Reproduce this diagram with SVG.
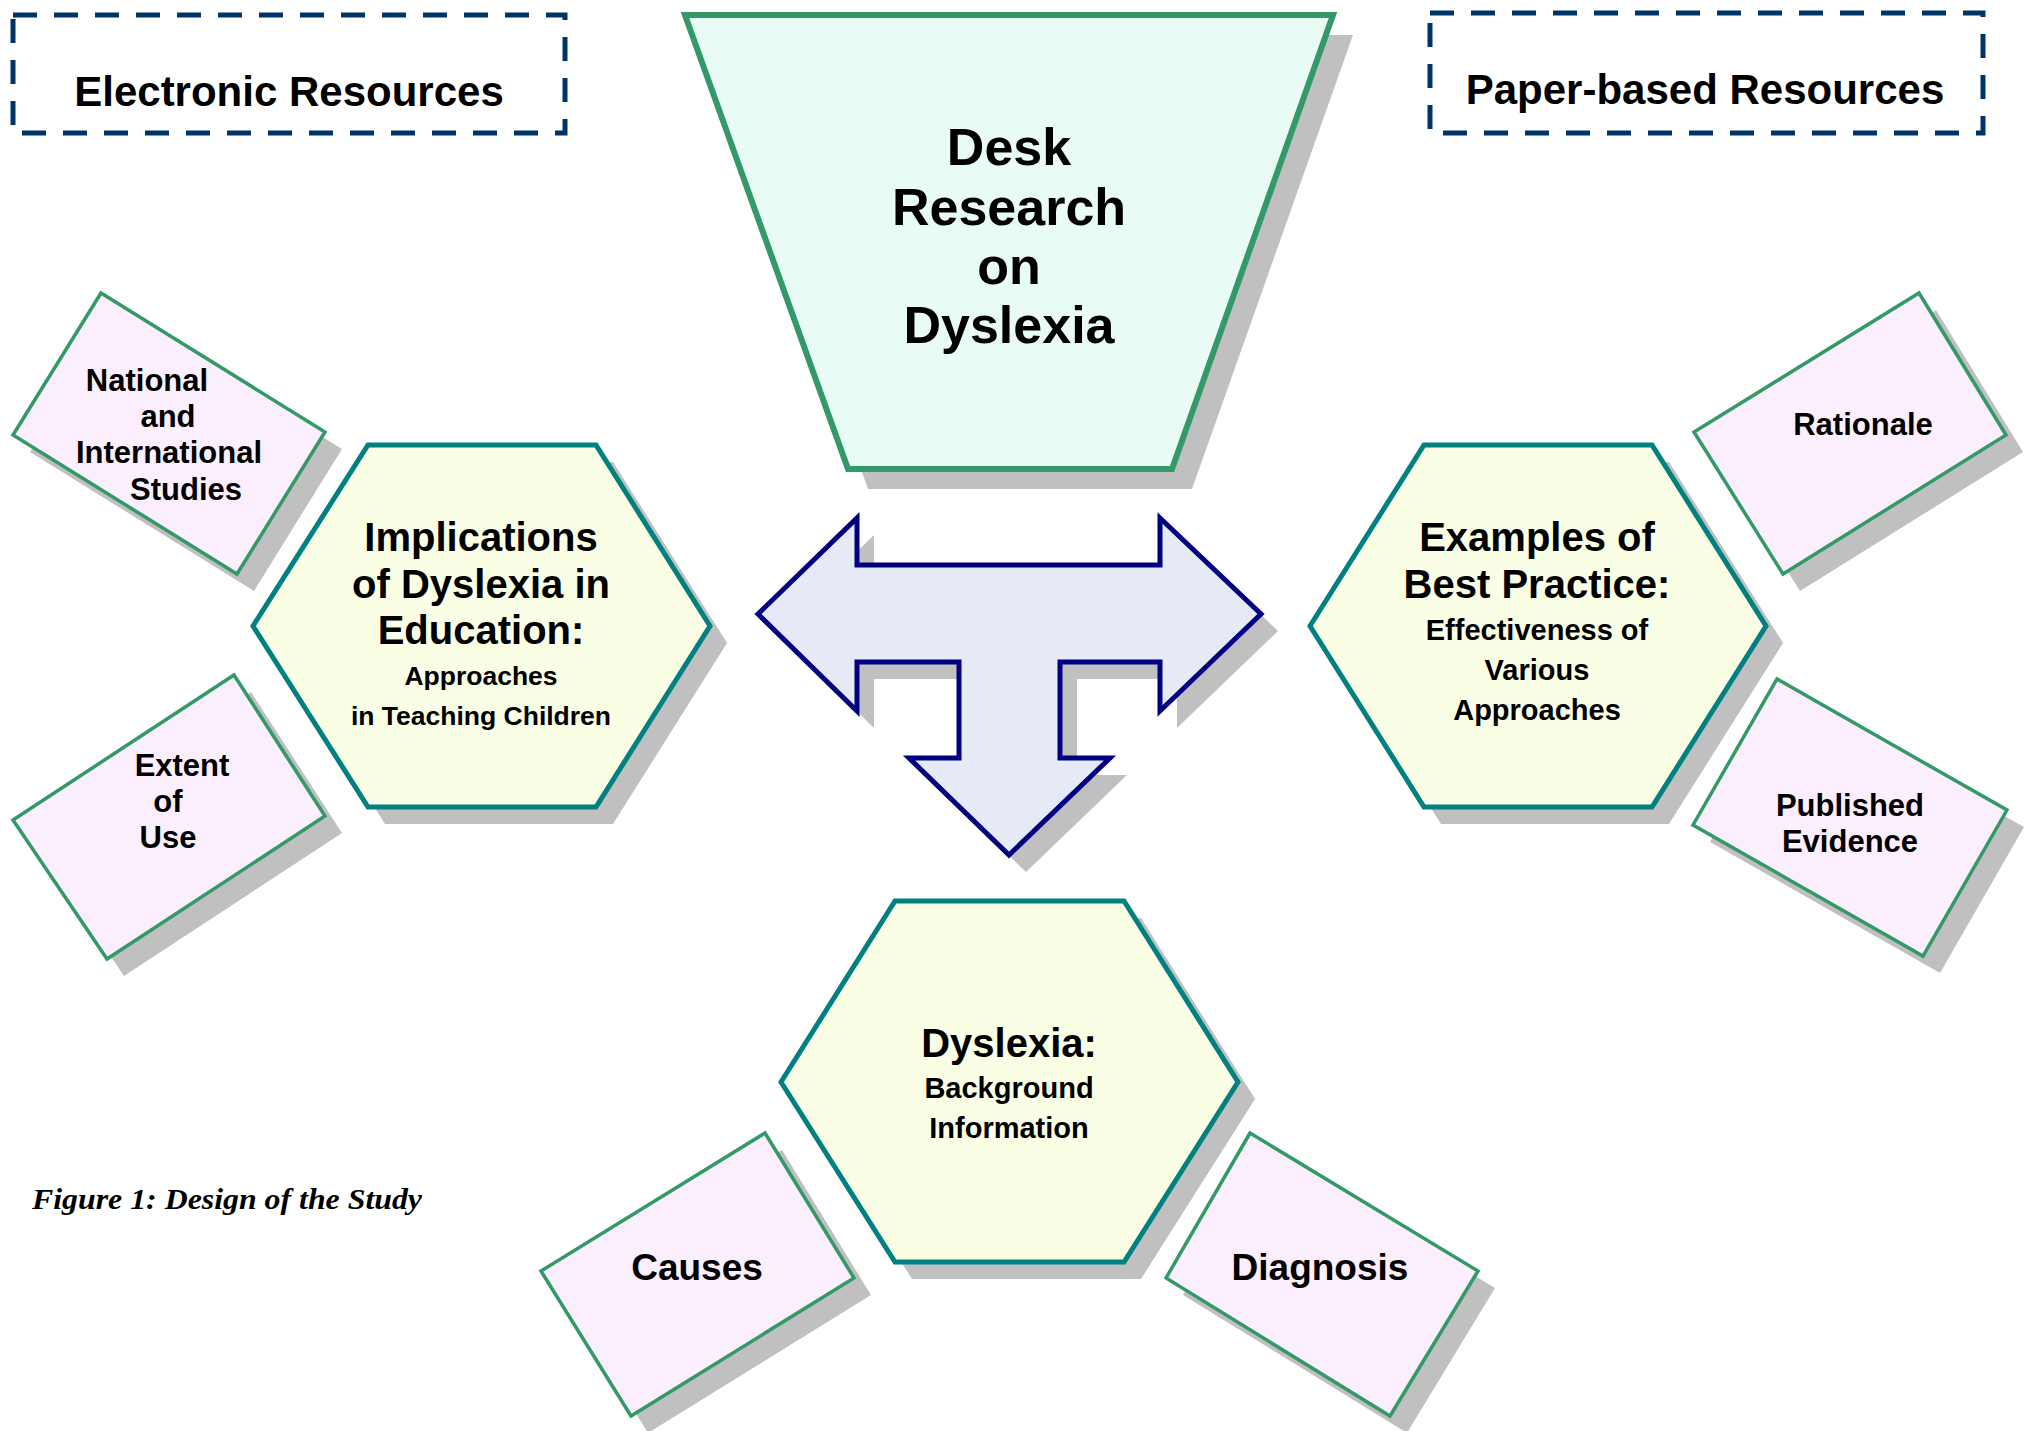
<svg xmlns="http://www.w3.org/2000/svg" width="2024" height="1431" viewBox="0 0 2024 1431">
<style>
text{font-family:"Liberation Sans",Arial,sans-serif;font-weight:bold;fill:#000;text-anchor:middle}
.res{fill:#fff;stroke:#003366;stroke-width:5;stroke-dasharray:24 17}
.sh{fill:#c0c0c0}
.trap{fill:#e8fcf5;stroke:#339966;stroke-width:6}
.hex{fill:#fafee4;stroke:#008080;stroke-width:5}
.card{fill:#fbeefd;stroke:#339966;stroke-width:3.5}
.arr{fill:#e6eaf6;stroke:#000080;stroke-width:5}
.cap{font-family:"Liberation Serif","Times New Roman",serif;font-style:italic;text-anchor:start;font-size:30px}
</style>
<rect width="2024" height="1431" fill="#fff"/>

<g id="electronic">
<rect class="res" x="13" y="15" width="552" height="118"/>
<text x="289" y="106" font-size="42">Electronic Resources</text>
</g>
<g id="paper">
<rect class="res" x="1430" y="13" width="553" height="120"/>
<text x="1705" y="104" font-size="42">Paper-based Resources</text>
</g>

<g id="desk">
<polygon class="sh" points="705,35 1353,35 1192,489 868,489"/>
<polygon class="trap" points="685,15 1333,15 1172,469 848,469"/>
<text font-size="52"><tspan x="1009" y="165">Desk</tspan><tspan x="1009" y="225">Research</tspan><tspan x="1009" y="284">on</tspan><tspan x="1009" y="343">Dyslexia</tspan></text>
</g>

<g id="connectors">
<polygon class="sh" transform="translate(17,17)" points="758,614 857,518 857,565 1160,565 1160,518 1261,614 1160,711 1160,662 1060,662 1060,758 1110,758 1009,855 909,758 959,758 959,662 857,662 857,711"/>
<polygon class="arr" points="758,614 857,518 857,565 1160,565 1160,518 1261,614 1160,711 1160,662 1060,662 1060,758 1110,758 1009,855 909,758 959,758 959,662 857,662 857,711"/>
</g>

<g id="implications">
<polygon class="sh" transform="translate(17,17)" points="253,626 368,445 596,445 710,626 596,807 368,807"/>
<polygon class="hex" points="253,626 368,445 596,445 710,626 596,807 368,807"/>
<text font-size="40"><tspan x="481" y="551">Implications</tspan><tspan x="481" y="598">of Dyslexia in</tspan><tspan x="481" y="644">Education:</tspan></text>
<text font-size="26.5"><tspan x="481" y="685">Approaches</tspan><tspan x="481" y="725">in Teaching Children</tspan></text>
</g>

<g id="examples">
<polygon class="sh" transform="translate(17,17)" points="1310,626 1424,445 1652,445 1766,626 1652,807 1424,807"/>
<polygon class="hex" points="1310,626 1424,445 1652,445 1766,626 1652,807 1424,807"/>
<text font-size="40"><tspan x="1537" y="551">Examples of</tspan><tspan x="1537" y="598">Best Practice:</tspan></text>
<text font-size="29"><tspan x="1537" y="640">Effectiveness of</tspan><tspan x="1537" y="680">Various</tspan><tspan x="1537" y="720">Approaches</tspan></text>
</g>

<g id="background">
<polygon class="sh" transform="translate(17,17)" points="781,1082 895,901 1124,901 1238,1082 1124,1262 895,1262"/>
<polygon class="hex" points="781,1082 895,901 1124,901 1238,1082 1124,1262 895,1262"/>
<text x="1009" y="1057" font-size="40">Dyslexia:</text>
<text font-size="29"><tspan x="1009" y="1098">Background</tspan><tspan x="1009" y="1138">Information</tspan></text>
</g>

<g id="national">
<polygon class="sh" transform="translate(17,17)" points="101,293 325,432 237,574 13,435"/>
<polygon class="card" points="101,293 325,432 237,574 13,435"/>
<text font-size="31"><tspan x="147" y="391">National</tspan><tspan x="168" y="427">and</tspan><tspan x="169" y="463">International</tspan><tspan x="186" y="500">Studies</tspan></text>
</g>

<g id="extent">
<polygon class="sh" transform="translate(17,17)" points="234,675 325,816 107,959 13,820"/>
<polygon class="card" points="234,675 325,816 107,959 13,820"/>
<text font-size="31"><tspan x="182" y="776">Extent</tspan><tspan x="168" y="812">of</tspan><tspan x="168" y="848">Use</tspan></text>
</g>

<g id="rationale">
<polygon class="sh" transform="translate(17,17)" points="1919,293 2006,435 1783,574 1694,432"/>
<polygon class="card" points="1919,293 2006,435 1783,574 1694,432"/>
<text x="1863" y="435" font-size="31">Rationale</text>
</g>

<g id="published">
<polygon class="sh" transform="translate(17,17)" points="1777,679 2007,810 1923,956 1693,825"/>
<polygon class="card" points="1777,679 2007,810 1923,956 1693,825"/>
<text font-size="31"><tspan x="1850" y="816">Published</tspan><tspan x="1850" y="852">Evidence</tspan></text>
</g>

<g id="causes">
<polygon class="sh" transform="translate(17,17)" points="765,1133 854,1278 631,1416 541,1271"/>
<polygon class="card" points="765,1133 854,1278 631,1416 541,1271"/>
<text x="697" y="1280" font-size="37">Causes</text>
</g>

<g id="diagnosis">
<polygon class="sh" transform="translate(17,17)" points="1250,1133 1478,1271 1390,1416 1166,1278"/>
<polygon class="card" points="1250,1133 1478,1271 1390,1416 1166,1278"/>
<text x="1320" y="1280" font-size="37">Diagnosis</text>
</g>

<text class="cap" x="32" y="1209" textLength="390" lengthAdjust="spacingAndGlyphs">Figure 1: Design of the Study</text>
</svg>
